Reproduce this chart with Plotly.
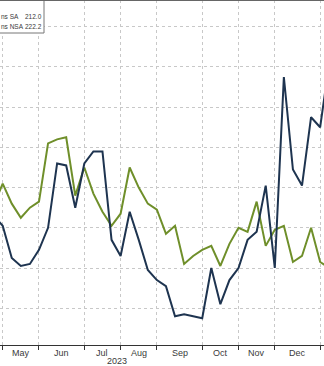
import pandas as pd
import plotly.graph_objects as go

# Weekly dates (Fridays)
dates = list(pd.date_range("2023-04-28", "2024-01-12", freq="W-FRI"))

claims_sa = [215.1, 216.2, 215.2, 214.5, 215.0, 215.3, 218.2, 218.4, 218.5, 215.6,
             217.0, 215.7, 214.8, 214.1, 214.7, 217.0, 216.0, 215.2, 214.9, 213.7,
             214.1, 212.2, 212.6, 212.9, 213.1, 212.1, 213.2, 214.0, 213.8, 215.3,
             213.1, 213.9, 214.1, 212.3, 212.6, 214.0, 212.3, 212.0]

claims_nsa = [214.6, 214.1, 212.5, 212.1, 212.2, 212.9, 214.0, 217.2, 217.1, 215.0,
              217.2, 217.8, 217.8, 213.4, 212.6, 214.8, 213.4, 211.9, 211.4, 211.1,
              209.6, 209.7, 209.6, 209.5, 212.0, 210.2, 211.4, 212.0, 213.4, 213.8,
              216.1, 212.0, 221.5, 216.9, 216.1, 219.5, 219.0, 222.2]

month_ticks = ["2023-05-05", "2023-06-02", "2023-07-07", "2023-08-04", "2023-09-01",
               "2023-10-06", "2023-11-03", "2023-12-01", "2024-01-05"]
month_labels = ["May", "Jun", "Jul", "Aug", "Sep", "Oct", "Nov", "Dec"]
year_label = "2023"
# legend texts as visible in the (cropped) reference
legend_names = ["ns SA", "ns NSA"]
legend_values = ["212.0", "222.2"]
y_grid = [210, 212, 214, 216, 218, 220, 222, 224]

GREEN = "#6f8f2a"
BLUE = "#1e3450"
W, H = 324, 366
B = 21
PH = H - B

fig = go.Figure()
fig.add_trace(go.Scatter(x=dates, y=claims_sa, mode="lines",
                         line=dict(color=GREEN, width=2), name="Claims SA"))
fig.add_trace(go.Scatter(x=dates, y=claims_nsa, mode="lines",
                         line=dict(color=BLUE, width=2), name="Claims NSA"))

tick_ts = [pd.Timestamp(t) for t in month_ticks]
mids = [tick_ts[i] + (tick_ts[i + 1] - tick_ts[i]) / 2 for i in range(len(month_labels))]

TXT = "#3a3a3a"
annotations = []
for m, lab in zip(mids, month_labels):
    annotations.append(dict(x=m, y=-8 / PH, xref="x", yref="paper", text=lab,
                            showarrow=False, xanchor="center", yanchor="middle",
                            font=dict(size=9, color=TXT)))
annotations.append(dict(x="2023-08-01", y=-15.5 / PH, xref="x", yref="paper",
                        text=year_label, showarrow=False, xanchor="center",
                        yanchor="middle", font=dict(size=9, color=TXT)))

row_y = [17, 27]
for nm, val, ry in zip(legend_names, legend_values, row_y):
    annotations.append(dict(x=0, y=1 - ry / PH, xref="paper", yref="paper",
                            text=nm, showarrow=False, xanchor="left", yanchor="middle",
                            borderpad=0, font=dict(size=6.5, color=TXT)))
    annotations.append(dict(x=42.5 / W, y=1 - ry / PH, xref="paper", yref="paper",
                            text=val, showarrow=False, xanchor="right", yanchor="middle",
                            borderpad=0, font=dict(size=6.5, color=TXT)))

shapes = [
    dict(type="rect", xref="paper", yref="paper", x0=-0.05, x1=44 / W,
         y0=1 - 33 / PH, y1=1.0, line=dict(color="#777777", width=1),
         fillcolor="white", layer="above"),
    dict(type="line", xref="paper", yref="paper", x0=0, x1=1, y0=1 - 0.5 / PH,
         y1=1 - 0.5 / PH, line=dict(color="#666666", width=1)),
]

fig.update_layout(
    width=W, height=H,
    margin=dict(l=0, r=0, t=0, b=B, pad=0),
    paper_bgcolor="white", plot_bgcolor="white",
    showlegend=False,
    font=dict(family="Liberation Sans, Arial, sans-serif", size=9, color=TXT),
    annotations=annotations,
    shapes=shapes,
    xaxis=dict(type="date", range=["2023-05-02 22:00", "2024-01-07 23:30"],
               tickvals=month_ticks, showticklabels=False,
               showgrid=True, gridcolor="#c8c8c8", griddash="dot", gridwidth=1,
               ticks="outside", ticklen=4, tickcolor="#333333", tickwidth=1,
               showline=True, linecolor="#333333", linewidth=1, zeroline=False),
    yaxis=dict(range=[208.17, 225.33], tickvals=y_grid, showticklabels=False,
               showgrid=True, gridcolor="#c8c8c8", griddash="dot", gridwidth=1,
               zeroline=False, showline=False, ticks=""),
)

fig.write_html("out.html")
